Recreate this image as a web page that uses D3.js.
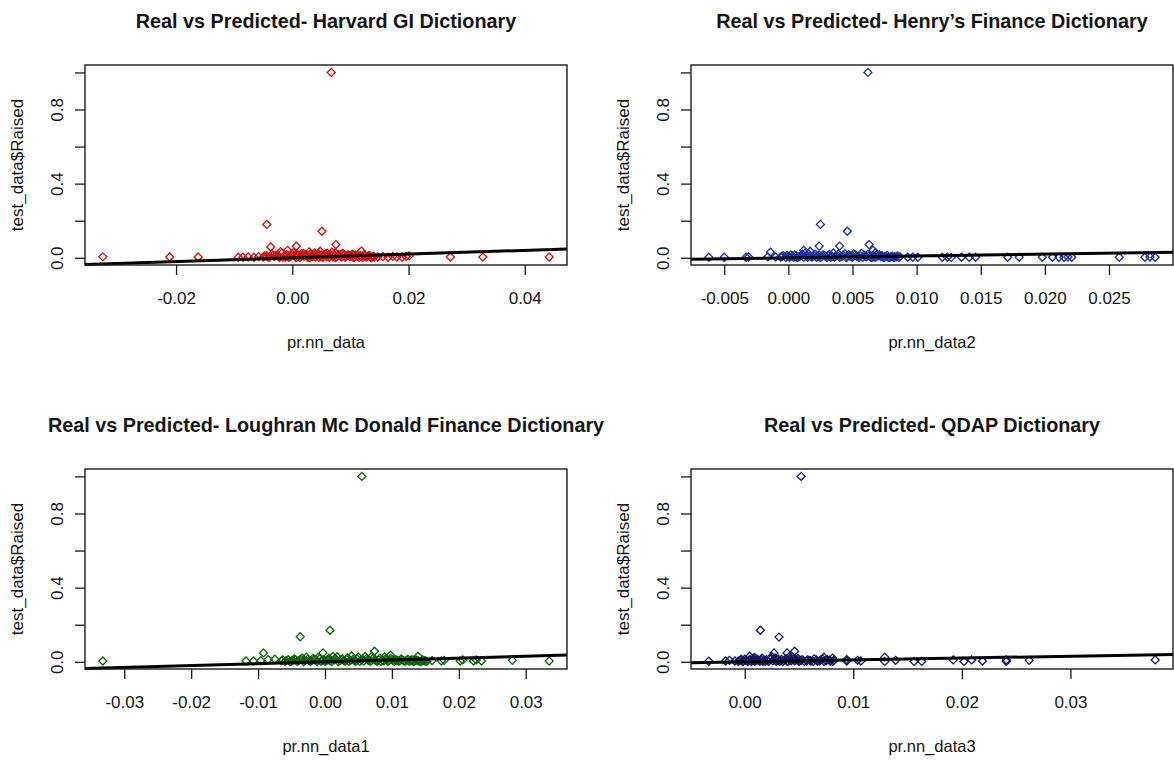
<!DOCTYPE html>
<html>
<head>
<meta charset="utf-8">
<script src="https://cdn.jsdelivr.net/npm/d3@7"></script>
<style>
  html, body { margin: 0; padding: 0; background: #ffffff; }
  svg { display: block; }
  text { font-family: "Liberation Sans", Arial, sans-serif; fill: #151515; }
</style>
</head>
<body>
<svg id="chart" width="1174" height="762"></svg>
<script>
// ---- Panel text ----
const titles = [
  "Real vs Predicted- Harvard GI Dictionary",
  "Real vs Predicted- Henry\u2019s Finance Dictionary",
  "Real vs Predicted- Loughran Mc Donald Finance Dictionary",
  "Real vs Predicted- QDAP Dictionary"
];
const xAxisTitles = ["pr.nn_data", "pr.nn_data2", "pr.nn_data1", "pr.nn_data3"];
const yAxisTitle = "test_data$Raised";

// ---- Tick values and labels ----
const xTickValues = [
  [-0.02, 0, 0.02, 0.04],
  [-0.005, 0, 0.005, 0.01, 0.015, 0.02, 0.025],
  [-0.03, -0.02, -0.01, 0, 0.01, 0.02, 0.03],
  [0, 0.01, 0.02, 0.03]
];
const xTickLabels = [
  ["-0.02", "0.00", "0.02", "0.04"],
  ["-0.005", "0.000", "0.005", "0.010", "0.015", "0.020", "0.025"],
  ["-0.03", "-0.02", "-0.01", "0.00", "0.01", "0.02", "0.03"],
  ["0.00", "0.01", "0.02", "0.03"]
];
const yTickValues = [0, 0.2, 0.4, 0.6, 0.8, 1.0];
const yTickLabels = ["0.0", "", "0.4", "", "0.8", ""];

// ---- Point colours per panel ----
const pointColors = ["#d41010", "#1b2fa6", "#0b620b", "#121a64"];

// ---- Predicted (x) vs real (y) values ----
const harvardPts = [
  [-0.0326, 0.005], [-0.0211, 0.004], [-0.0162, 0.004], [-0.0093, 0.003], [-0.0085, 0.003],
  [-0.0076, 0.004], [-0.0066, 0.003], [-0.0058, 0.006], [-0.0044, 0.18], [-0.0037, 0.058],
  [0.0007, 0.062], [0.0051, 0.143], [0.0067, 1.0], [0.0075, 0.071], [0.0119, 0.036],
  [-0.0008, 0.04], [0.0272, 0.004], [0.0328, 0.004], [0.0442, 0.004], [0.0147, 0.004],
  [0.0156, 0.006], [0.0165, 0.003], [0.0173, 0.008], [0.0180, 0.004], [0.0189, 0.003],
  [0.0196, 0.007], [0.0201, 0.010],
  [-0.0050, 0.004], [-0.0045, 0.012], [-0.0040, 0.002], [-0.0035, 0.020], [-0.0031, 0.006],
  [-0.0026, 0.014], [-0.0022, 0.003], [-0.0018, 0.025], [-0.0014, 0.009], [-0.0010, 0.017],
  [-0.0006, 0.002], [-0.0002, 0.011], [0.0002, 0.028], [0.0005, 0.005], [0.0009, 0.015],
  [0.0013, 0.001], [0.0016, 0.022], [0.0020, 0.008], [0.0024, 0.013], [0.0027, 0.003],
  [0.0031, 0.019], [0.0035, 0.007], [0.0038, 0.026], [0.0042, 0.012], [0.0046, 0.002],
  [0.0050, 0.016], [0.0053, 0.006], [0.0057, 0.021], [0.0061, 0.010], [0.0064, 0.003],
  [0.0068, 0.030], [0.0072, 0.014], [0.0076, 0.005], [0.0080, 0.018], [0.0083, 0.009],
  [0.0087, 0.024], [0.0091, 0.002], [0.0095, 0.013], [0.0099, 0.006], [0.0103, 0.019],
  [0.0107, 0.004], [0.0111, 0.011], [0.0115, 0.002], [0.0119, 0.008], [0.0123, 0.015],
  [0.0127, 0.004], [0.0131, 0.010], [0.0135, 0.003], [0.0139, 0.007],
  [-0.0043, 0.007], [-0.0029, 0.010], [-0.0012, 0.004], [0.0000, 0.019], [0.0011, 0.009],
  [0.0022, 0.018], [0.0033, 0.011], [0.0044, 0.022], [0.0055, 0.012], [0.0066, 0.017],
  [0.0078, 0.010], [0.0089, 0.015], [0.0101, 0.010], [0.0113, 0.006], [0.0125, 0.009],
  [0.0029, 0.032], [0.0048, 0.035], [0.0074, 0.027], [-0.0020, 0.033],
  [-0.0048, 0.009], [-0.0038, 0.005], [-0.0033, 0.013], [-0.0024, 0.007], [-0.0016, 0.002],
  [-0.0008, 0.013], [-0.0004, 0.006], [0.0004, 0.012], [0.0007, 0.001], [0.0015, 0.006],
  [0.0018, 0.013], [0.0026, 0.009], [0.0030, 0.001], [0.0037, 0.015], [0.0040, 0.004],
  [0.0048, 0.008], [0.0052, 0.001], [0.0059, 0.007], [0.0063, 0.014], [0.0070, 0.005],
  [0.0074, 0.001], [0.0081, 0.013], [0.0085, 0.004], [0.0093, 0.008], [0.0097, 0.016],
  [0.0105, 0.001], [0.0109, 0.014], [0.0117, 0.011], [0.0121, 0.001], [0.0129, 0.006],
  [0.0133, 0.013], [0.0137, 0.001], [0.0141, 0.004], [0.0008, 0.020], [0.0019, 0.024],
  [0.0040, 0.019], [0.0060, 0.025], [0.0085, 0.020], [0.0105, 0.015]
];

const henryPts = [
  [-0.0062, 0.003], [-0.0050, 0.003], [-0.0033, 0.003], [-0.0031, 0.004], [-0.0016, 0.005],
  [-0.0014, 0.030], [-0.0010, 0.004], [0.0012, 0.040], [0.0017, 0.035], [0.0025, 0.180],
  [0.0024, 0.063], [0.0040, 0.063], [0.0046, 0.143], [0.0063, 0.071], [0.0062, 1.0],
  [0.0066, 0.040], [0.0093, 0.003], [0.0097, 0.003], [0.0101, 0.003], [0.0120, 0.003],
  [0.0124, 0.003], [0.0127, 0.002], [0.0135, 0.003], [0.0141, 0.003], [0.0146, 0.003],
  [0.0171, 0.003], [0.0180, 0.003], [0.0198, 0.003], [0.0206, 0.003], [0.0211, 0.003],
  [0.0215, 0.003], [0.0218, 0.004], [0.0221, 0.003], [0.0258, 0.003], [0.0278, 0.003],
  [0.0282, 0.004], [0.0286, 0.003],
  [-0.0006, 0.004], [-0.0004, 0.012], [-0.0002, 0.002], [0.0000, 0.008], [0.0002, 0.016],
  [0.0004, 0.003], [0.0006, 0.010], [0.0008, 0.005], [0.0010, 0.014], [0.0012, 0.002],
  [0.0014, 0.009], [0.0016, 0.020], [0.0018, 0.004], [0.0020, 0.011], [0.0022, 0.003],
  [0.0024, 0.015], [0.0026, 0.006], [0.0028, 0.012], [0.0030, 0.002], [0.0032, 0.018],
  [0.0034, 0.007], [0.0036, 0.004], [0.0038, 0.013], [0.0040, 0.002], [0.0042, 0.009],
  [0.0044, 0.022], [0.0046, 0.005], [0.0048, 0.011], [0.0050, 0.003], [0.0052, 0.016],
  [0.0054, 0.006], [0.0056, 0.012], [0.0058, 0.002], [0.0060, 0.009], [0.0062, 0.019],
  [0.0064, 0.004], [0.0066, 0.013], [0.0068, 0.003], [0.0070, 0.010], [0.0072, 0.006],
  [0.0074, 0.002], [0.0076, 0.008], [0.0078, 0.003], [0.0080, 0.006], [0.0082, 0.002],
  [0.0084, 0.005], [0.0086, 0.002], [0.0013, 0.025], [0.0035, 0.026], [0.0057, 0.024],
  [0.0068, 0.028], [0.0021, 0.018], [0.0047, 0.017], [0.0071, 0.017],
  [-0.0005, 0.007], [-0.0001, 0.013], [0.0001, 0.003], [0.0003, 0.009], [0.0005, 0.015],
  [0.0007, 0.001], [0.0009, 0.008], [0.0011, 0.019], [0.0015, 0.003], [0.0017, 0.012],
  [0.0019, 0.007], [0.0023, 0.009], [0.0025, 0.001], [0.0027, 0.016], [0.0029, 0.008],
  [0.0031, 0.011], [0.0033, 0.003], [0.0037, 0.009], [0.0039, 0.020], [0.0041, 0.006],
  [0.0043, 0.013], [0.0045, 0.001], [0.0049, 0.007], [0.0051, 0.021], [0.0053, 0.010],
  [0.0055, 0.002], [0.0059, 0.014], [0.0061, 0.005], [0.0063, 0.011], [0.0065, 0.001],
  [0.0067, 0.008], [0.0069, 0.015], [0.0073, 0.011], [0.0075, 0.004], [0.0077, 0.013],
  [0.0079, 0.001], [0.0081, 0.009], [0.0083, 0.004], [0.0085, 0.010], [0.0087, 0.005]
];

const loughranPts = [
  [-0.0332, 0.004], [-0.0118, 0.004], [-0.0107, 0.004], [-0.0096, 0.006], [-0.0085, 0.012],
  [-0.0075, 0.014], [-0.0092, 0.048], [-0.0037, 0.135], [0.00075, 0.170], [-0.0003, 0.048],
  [0.0074, 0.057], [0.0139, 0.030], [0.0055, 1.0], [0.0174, 0.004], [0.0178, 0.008],
  [0.0202, 0.004], [0.0206, 0.010], [0.0222, 0.004], [0.0226, 0.010], [0.0234, 0.004],
  [0.0280, 0.008], [0.0335, 0.004], [0.0152, 0.002], [0.0160, 0.006], [0.0098, 0.035],
  [-0.0065, 0.006], [-0.0060, 0.002], [-0.0055, 0.011], [-0.0050, 0.004], [-0.0046, 0.016],
  [-0.0042, 0.002], [-0.0038, 0.009], [-0.0034, 0.020], [-0.0030, 0.005], [-0.0026, 0.013],
  [-0.0022, 0.002], [-0.0018, 0.018], [-0.0014, 0.008], [-0.0010, 0.024], [-0.0006, 0.003],
  [-0.0002, 0.012], [0.0002, 0.006], [0.0006, 0.019], [0.0010, 0.002], [0.0014, 0.010],
  [0.0018, 0.027], [0.0022, 0.005], [0.0026, 0.015], [0.0030, 0.003], [0.0034, 0.021],
  [0.0038, 0.008], [0.0042, 0.013], [0.0046, 0.002], [0.0050, 0.025], [0.0054, 0.010],
  [0.0058, 0.004], [0.0062, 0.017], [0.0066, 0.007], [0.0070, 0.030], [0.0074, 0.012],
  [0.0078, 0.003], [0.0082, 0.020], [0.0086, 0.008], [0.0090, 0.014], [0.0094, 0.002],
  [0.0098, 0.018], [0.0102, 0.006], [0.0106, 0.011], [0.0110, 0.003], [0.0114, 0.016],
  [0.0118, 0.005], [0.0122, 0.009], [0.0126, 0.002], [0.0130, 0.012], [0.0134, 0.004],
  [0.0138, 0.007], [0.0142, 0.002], [0.0146, 0.010], [0.0150, 0.004], [-0.0028, 0.025],
  [0.0012, 0.029], [0.0040, 0.031], [0.0060, 0.028], [0.0089, 0.026],
  [-0.0063, 0.010], [-0.0058, 0.006], [-0.0052, 0.001], [-0.0048, 0.008], [-0.0044, 0.012],
  [-0.0040, 0.005], [-0.0036, 0.014], [-0.0032, 0.001], [-0.0024, 0.008], [-0.0020, 0.005],
  [-0.0016, 0.013], [-0.0012, 0.001], [-0.0008, 0.017], [-0.0004, 0.008], [0.0000, 0.002],
  [0.0004, 0.011], [0.0008, 0.005], [0.0016, 0.016], [0.0020, 0.001], [0.0024, 0.010],
  [0.0028, 0.006], [0.0032, 0.013], [0.0036, 0.002], [0.0044, 0.007], [0.0048, 0.015],
  [0.0052, 0.002], [0.0056, 0.014], [0.0064, 0.011], [0.0068, 0.002], [0.0072, 0.019],
  [0.0076, 0.007], [0.0080, 0.011], [0.0084, 0.002], [0.0088, 0.005], [0.0092, 0.010],
  [0.0096, 0.006], [0.0100, 0.012], [0.0104, 0.002], [0.0108, 0.008], [0.0112, 0.006],
  [0.0116, 0.010], [0.0120, 0.002], [0.0124, 0.013], [0.0128, 0.007], [0.0132, 0.001],
  [0.0136, 0.010], [0.0140, 0.005], [0.0144, 0.001], [0.0148, 0.007]
];

const qdapPts = [
  [-0.0033, 0.003], [-0.00175, 0.004], [-0.0014, 0.008], [-0.0009, 0.004], [0.00144, 0.170],
  [0.00316, 0.133], [0.00046, 0.030], [0.0027, 0.048], [0.0039, 0.048], [0.0046, 0.057],
  [0.0052, 1.0], [0.0073, 0.025], [0.0081, 0.020], [0.0094, 0.004], [0.0094, 0.012],
  [0.0104, 0.008], [0.0107, 0.004], [0.0129, 0.025], [0.0129, 0.002], [0.0139, 0.008],
  [0.0156, 0.002], [0.0163, 0.002], [0.0192, 0.010], [0.0202, 0.002], [0.0209, 0.010],
  [0.0219, 0.004], [0.0241, 0.002], [0.0241, 0.010], [0.0262, 0.008], [0.0378, 0.010],
  [-0.0006, 0.003], [-0.0004, 0.010], [-0.0002, 0.002], [0.0000, 0.014], [0.0002, 0.005],
  [0.0004, 0.009], [0.0006, 0.002], [0.0008, 0.016], [0.0010, 0.006], [0.0012, 0.011],
  [0.0014, 0.003], [0.0016, 0.019], [0.0018, 0.007], [0.0020, 0.012], [0.0022, 0.002],
  [0.0024, 0.015], [0.0026, 0.005], [0.0028, 0.021], [0.0030, 0.009], [0.0032, 0.003],
  [0.0034, 0.013], [0.0036, 0.006], [0.0038, 0.017], [0.0040, 0.002], [0.0042, 0.010],
  [0.0044, 0.024], [0.0046, 0.005], [0.0048, 0.012], [0.0050, 0.003], [0.0052, 0.008],
  [0.0055, 0.002], [0.0058, 0.011], [0.0061, 0.004], [0.0064, 0.016], [0.0067, 0.003],
  [0.0070, 0.009], [0.0073, 0.002], [0.0076, 0.012], [0.0079, 0.004], [0.0082, 0.007],
  [0.0009, 0.023], [0.0025, 0.028], [0.0041, 0.027], [0.0019, 0.002], [0.0035, 0.001],
  [-0.0005, 0.006], [-0.0003, 0.013], [-0.0001, 0.004], [0.0001, 0.009], [0.0003, 0.001],
  [0.0005, 0.012], [0.0007, 0.007], [0.0009, 0.003], [0.0011, 0.014], [0.0013, 0.008],
  [0.0015, 0.011], [0.0017, 0.002], [0.0021, 0.006], [0.0023, 0.017], [0.0027, 0.010],
  [0.0029, 0.003], [0.0031, 0.014], [0.0033, 0.007], [0.0037, 0.011], [0.0039, 0.004],
  [0.0043, 0.006], [0.0045, 0.014], [0.0047, 0.009], [0.0049, 0.018], [0.0051, 0.006],
  [0.0053, 0.012], [0.0057, 0.005], [0.0060, 0.008], [0.0063, 0.002], [0.0066, 0.010],
  [0.0069, 0.005], [0.0072, 0.014], [0.0075, 0.006], [0.0078, 0.009], [0.0081, 0.002]
];

const panelData = [harvardPts, henryPts, loughranPts, qdapPts];

// ---- Layout: 2 x 2 grid of plot boxes ----
const colLeft = [85, 691];
const rowTop = [65, 469];
const boxW = 482, boxH = 200;
const ink = "#1c1c1c";

const svg = d3.select("#chart");

// Axis range padded by 4% on each side, like base-R plots
function paddedExtent(values) {
  const [lo, hi] = d3.extent(values);
  const pad = (hi - lo) * 0.04;
  return [lo - pad, hi + pad];
}

panelData.forEach((pts, i) => {
  const left = colLeft[i % 2];
  const top = rowTop[Math.floor(i / 2)];

  const x = d3.scaleLinear().domain(paddedExtent(pts.map(d => d[0]))).range([0, boxW]);
  const y = d3.scaleLinear().domain(paddedExtent(pts.map(d => d[1]))).range([boxH, 0]);

  const g = svg.append("g").attr("transform", `translate(${left},${top})`);

  // points: open diamonds
  const diamond = d3.symbol(d3.symbolSquare, 32);
  g.append("g").selectAll("path")
    .data(pts)
    .join("path")
    .attr("d", diamond)
    .attr("transform", d => `translate(${x(d[0])},${y(d[1])}) rotate(45)`)
    .attr("fill", "none")
    .attr("stroke", pointColors[i])
    .attr("stroke-width", 1.3);

  // reference line y = x across the plot
  const [x0, x1] = x.domain();
  g.append("line")
    .attr("x1", x(x0)).attr("y1", y(x0))
    .attr("x2", x(x1)).attr("y2", y(x1))
    .attr("stroke", "#000")
    .attr("stroke-width", 3);

  // frame
  g.append("rect")
    .attr("x", 0).attr("y", 0)
    .attr("width", boxW).attr("height", boxH)
    .attr("fill", "none")
    .attr("stroke", ink)
    .attr("stroke-width", 1.4);

  // x axis
  const xa = g.append("g")
    .attr("transform", `translate(0,${boxH})`)
    .call(d3.axisBottom(x)
      .tickValues(xTickValues[i])
      .tickFormat((d, k) => xTickLabels[i][k])
      .tickSize(10)
      .tickPadding(17));
  xa.select(".domain").remove();
  xa.selectAll(".tick line").attr("stroke", ink).attr("stroke-width", 1.3);
  xa.selectAll(".tick text")
    .attr("fill", "#151515")
    .style("font-size", "17px")
    .style("font-family", "\"Liberation Sans\", Arial, sans-serif");

  // y axis with rotated labels
  const ya = g.append("g")
    .call(d3.axisLeft(y)
      .tickValues(yTickValues)
      .tickFormat((d, k) => yTickLabels[k])
      .tickSize(10));
  ya.select(".domain").remove();
  ya.selectAll(".tick line").attr("stroke", ink).attr("stroke-width", 1.3);
  ya.selectAll(".tick text")
    .attr("x", 0)
    .attr("dy", "0.35em")
    .attr("text-anchor", "middle")
    .attr("transform", "translate(-28,0) rotate(-90)")
    .attr("fill", "#151515")
    .style("font-size", "17px")
    .style("font-family", "\"Liberation Sans\", Arial, sans-serif");

  // titles
  g.append("text")
    .attr("x", boxW / 2).attr("y", -37)
    .attr("text-anchor", "middle")
    .style("font-size", "19.8px")
    .style("font-weight", "bold")
    .text(titles[i]);

  g.append("text")
    .attr("x", boxW / 2).attr("y", boxH + 83)
    .attr("text-anchor", "middle")
    .style("font-size", "16.5px")
    .text(xAxisTitles[i]);

  g.append("text")
    .attr("transform", `translate(-68,${boxH / 2}) rotate(-90)`)
    .attr("dy", "0.35em")
    .attr("text-anchor", "middle")
    .style("font-size", "17px")
    .text(yAxisTitle);
});
</script>
</body>
</html>
